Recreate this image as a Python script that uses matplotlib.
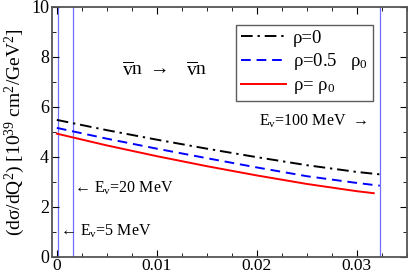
import numpy as np
import matplotlib
matplotlib.use("Agg")
import matplotlib.pyplot as plt
from matplotlib.ticker import MultipleLocator, FuncFormatter

plt.rcParams['font.family'] = ['Liberation Serif', 'DejaVu Serif']
plt.rcParams['mathtext.fontset'] = 'custom'
plt.rcParams['mathtext.rm'] = 'Liberation Serif'
plt.rcParams['mathtext.it'] = 'Liberation Serif:italic'

# Q^2 [GeV^2] and cross sections
q2_rho0 = [0.0, 0.005, 0.01, 0.015, 0.02, 0.025, 0.03, 0.0326]
xs_rho0 = [5.47, 5.06, 4.68, 4.32, 3.98, 3.66, 3.39, 3.28]

q2_half = [0.0, 0.005, 0.01, 0.015, 0.02, 0.025, 0.03, 0.0323]
xs_half = [5.15, 4.72, 4.32, 3.94, 3.57, 3.22, 2.95, 2.84]

q2_full = [0.0, 0.005, 0.01, 0.015, 0.02, 0.025, 0.03, 0.0317]
xs_full = [4.92, 4.45, 4.02, 3.62, 3.25, 2.91, 2.62, 2.54]

# kinematic limits for E = 5, 20, 100 MeV
q2_max = [0.0001, 0.0016, 0.0323]

fig = plt.figure(figsize=(4.08, 2.74), dpi=100)
ax = fig.add_axes([0.127, 0.063, 0.870, 0.913])

for q in q2_max:
    ax.axvline(q, color='#7070ff', lw=0.9, zorder=1)

ax.plot(q2_rho0, xs_rho0, color='black', lw=1.4, ls=(0, (6, 2.5, 1.2, 2.5)), label='ρ=0')
ax.plot(q2_half, xs_half, color='blue', lw=1.4, ls=(0, (5, 3)), label=r'ρ=0.5   ρ$_\mathrm{0}$')
ax.plot(q2_full, xs_full, color='red', lw=1.4, label=r'ρ= ρ$_\mathrm{0}$')

ax.set_xlim(-0.0005, 0.035)
ax.set_ylim(0, 10)
ax.xaxis.set_major_locator(MultipleLocator(0.01))
ax.xaxis.set_minor_locator(MultipleLocator(0.0025))
ax.yaxis.set_major_locator(MultipleLocator(2))
ax.yaxis.set_minor_locator(MultipleLocator(1))
ax.xaxis.set_major_formatter(FuncFormatter(lambda v, p: '%g' % round(v, 4)))
ax.tick_params(which='both', direction='in', top=True, right=True, labelsize=13)
ax.tick_params(axis='x', pad=1, labelsize=12.5)
ax.tick_params(axis='y', pad=2)
ax.tick_params(which='major', length=5)
ax.tick_params(which='minor', length=3)
for s in ax.spines.values():
    s.set_color('#555555')
    s.set_linewidth(1.3)

ax.set_ylabel(r'(dσ/dQ$^\mathrm{2}$) [10$^\mathrm{39}$ cm$^\mathrm{2}$/GeV$^\mathrm{2}$]', fontsize=14, labelpad=3)

ax.text(0.01075, 7.47, r'$\overline{\mathrm{v}}$n $\rightarrow$   $\overline{\mathrm{v}}$n',
        fontsize=14, ha='center', va='center')
ax.text(0.0311, 5.42, r'E$_\mathrm{v}$=100 MeV  →', fontsize=11.5, ha='right', va='center')
ax.text(0.0017, 2.75, r'← E$_\mathrm{v}$=20 MeV', fontsize=11.5, ha='left', va='center')
ax.text(0.0003, 1.03, r'← E$_\mathrm{v}$=5 MeV', fontsize=11.5, ha='left', va='center')

leg = ax.legend(loc='upper left', bbox_to_anchor=(0.519, 0.927), fontsize=13.5, frameon=True,
                fancybox=False, edgecolor='#333333', handlelength=2.4, borderpad=0.25,
                labelspacing=0.25, handletextpad=0.4, borderaxespad=0)
leg.get_frame().set_linewidth(1.0)

fig.savefig('out.png', dpi=100)
